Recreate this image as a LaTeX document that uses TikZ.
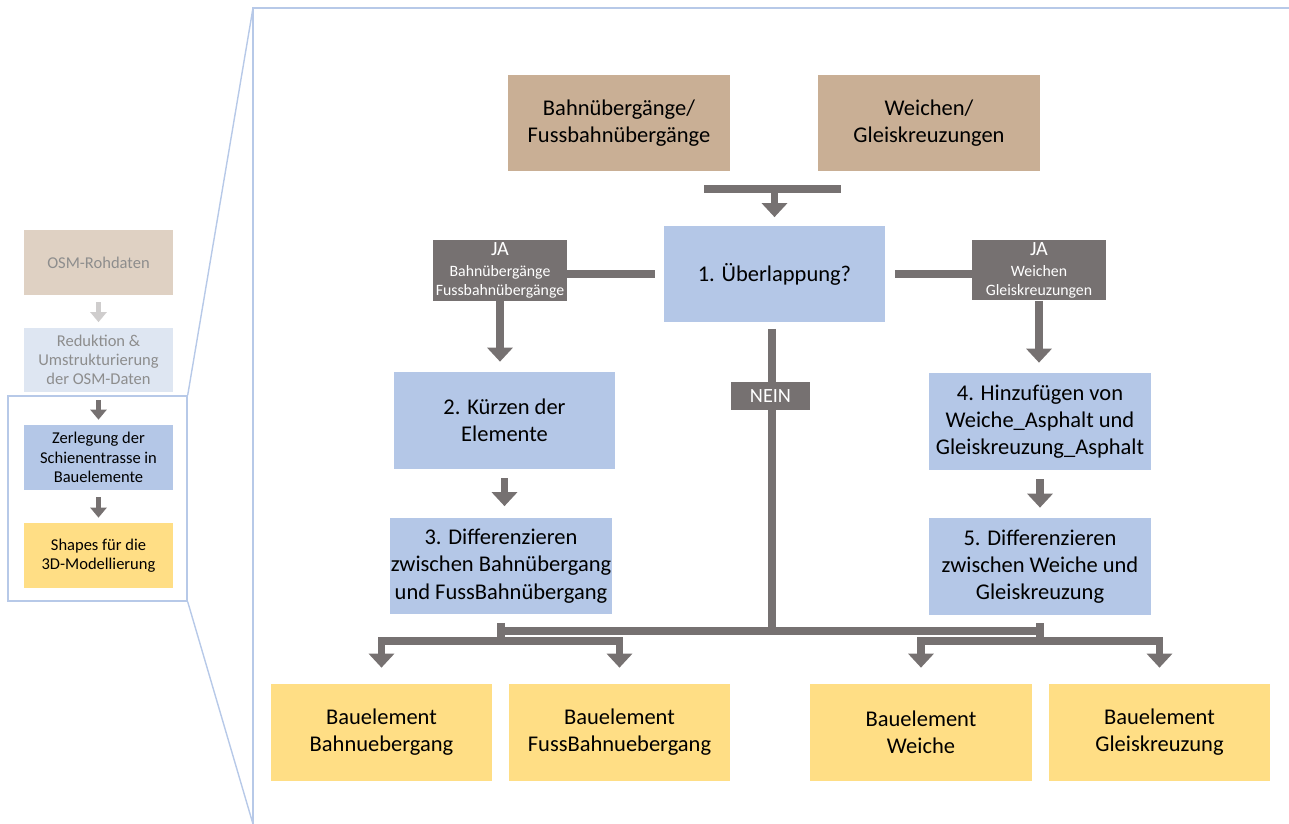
\documentclass[tikz,border=0pt]{standalone}
\usepackage{fontspec}
\setmainfont{Carlito}
\usetikzlibrary{arrows.meta}

\definecolor{rawtan}{HTML}{C9AF95}
\definecolor{rawtanpale}{HTML}{DFD1C3}
\definecolor{stepblue}{HTML}{B4C7E7}
\definecolor{stepbluepale}{HTML}{DEE6F2}
\definecolor{partyellow}{HTML}{FFDE85}
\definecolor{bargrey}{HTML}{767171}
\definecolor{lightarrow}{HTML}{CFCDCD}
\definecolor{fadegrey}{HTML}{8D8D8D}
\definecolor{frameblue}{HTML}{B7C9E8}

\begin{document}
\begin{tikzpicture}[x=0.02cm, y=-0.02cm, line join=miter,
    box/.style={fill=#1, inner sep=0pt, align=center, minimum width=4.44cm, minimum height=1.94cm, font=\fontsize{12.8}{15.5}\selectfont},
    small/.style={fill=#1, inner sep=0pt, align=center, minimum width=2.98cm, minimum height=1.3cm, font=\fontsize{9.4}{11}\selectfont},
    tag/.style={fill=bargrey, text=white, inner sep=0pt, align=center, font=\fontsize{9}{10.6}\selectfont},
    bar/.style={draw=bargrey, line width=0.15cm},
    arr/.style={bar, -{Triangle[length=0.28cm,width=0.5cm]}},
    arr2/.style={bar, {Triangle[length=0.28cm,width=0.5cm]}-{Triangle[length=0.28cm,width=0.5cm]}, shorten <=0.32cm, shorten >=0.32cm},
    arrs/.style={draw=#1, line width=0.1cm, -{Triangle[length=0.2cm,width=0.32cm]}, shorten <=0.14cm, shorten >=0.1cm},
    frame/.style={draw=frameblue, line width=0.8pt}]
    \useasboundingbox (0,0) rectangle (1289,824);

    % overview column
    \node[small=rawtanpale, text=fadegrey] (osm) at (98.5,262.5) {OSM-Rohdaten};
    \node[small=stepbluepale, text=fadegrey] (red) at (98.5,360) {Reduktion \&\\Umstrukturierung\\der OSM-Daten};
    \node[small=stepblue] (zer) at (98.5,457.5) {Zerlegung der\\Schienentrasse in\\Bauelemente};
    \node[small=partyellow] (shp) at (98.5,555.5) {Shapes für die\\3D-Modellierung};
    \node[frame, minimum width=3.58cm, minimum height=4.1cm] (focus) at (97.5,498.5) {};

    \draw[arrs=lightarrow] (osm) -- (red);
    \draw[arrs=bargrey] (red) -- (zer);
    \draw[arrs=bargrey] (zer) -- (shp);

    % zoom into the detail
    \coordinate (zt) at (253,8);
    \coordinate (zb) at (253,824);
    \coordinate (ze) at (1289,8);
    \draw[frame] (focus.north east) -- (zt);
    \draw[frame] (focus.south east) -- (zb);
    \draw[frame] (zb) -- (zt) -- (ze);

    % detail
    \node[box=rawtan] (bahn) at (619,123) {Bahnübergänge/\\Fussbahnübergänge};
    \node[box=rawtan] (weich) at (929,123) {Weichen/\\Gleiskreuzungen};
    \node[box=stepblue] (ueb) at (774.5,274) {1. Überlappung?};
    \node[tag, minimum width=2.68cm, minimum height=1.22cm] (jal) at (500,270.5) {{\fontsize{11.5}{13}\selectfont JA}\\[1.5pt]Bahnübergänge\\Fussbahnübergänge};
    \node[tag, minimum width=2.68cm, minimum height=1.22cm] (jar) at (1039,270) {{\fontsize{11.5}{13}\selectfont JA}\\[1.5pt]Weichen\\Gleiskreuzungen};
    \node[box=stepblue] (kuerz) at (504.5,420.5) {2. Kürzen der\\Elemente};
    \node[box=stepblue] (hinz) at (1040,421.5) {4. Hinzufügen von\\Weiche\_Asphalt und\\Gleiskreuzung\_Asphalt};
    \node[box=stepblue] (difl) at (501,566) {3. Differenzieren\\zwischen Bahnübergang\\und FussBahnübergang};
    \node[box=stepblue] (difr) at (1040,566.5) {5. Differenzieren\\zwischen Weiche und\\Gleiskreuzung};
    \node[box=partyellow] (b1) at (381.5,732.5) {Bauelement\\Bahnuebergang};
    \node[box=partyellow] (b2) at (619.5,732.5) {Bauelement\\FussBahnuebergang};
    \node[box=partyellow] (b3) at (921,732.5) {Bauelement\\Weiche};
    \node[box=partyellow] (b4) at (1159.5,732.5) {Bauelement\\Gleiskreuzung};

    \coordinate (mL) at (704,189);
    \coordinate (mR) at (841,189);
    \draw[bar] (mL) -- (mR);
    \draw[arr, shorten >=0.16cm] (mL -| ueb) -- (ueb.north);

    \draw[bar, shorten >=0.16cm] (jal.east |- ueb) -- (ueb.west);
    \draw[bar, shorten >=0.18cm] (jar.west |- ueb) -- (ueb.east);
    \draw[arr, shorten >=0.2cm] (jal.south) -- (jal.south |- kuerz.north);
    \draw[arr, shorten >=0.2cm] (jar.south) -- (jar.south |- hinz.north);
    \draw[arr, shorten <=0.18cm, shorten >=0.22cm] (kuerz.south) -- (kuerz.south |- difl.north);
    \draw[arr, shorten <=0.18cm, shorten >=0.2cm] (hinz.south) -- (hinz.south |- difr.north);

    \coordinate (split) at (772,631);
    \coordinate (sl) at (501,641);
    \coordinate (sr) at (1040,641);
    \draw[bar, shorten <=0.12cm] (ueb.south -| split) -- (split);
    \draw[bar] (difl.south |- split) -- (difr.south |- split);
    \draw[bar, shorten <=0.16cm] (difl.south) -- (sl);
    \draw[bar, shorten <=0.16cm] (difr.south) -- (sr);
    \draw[arr2] (b1.north) |- (sl) -| (b2.north);
    \draw[arr2] (b3.north) |- (sr) -| (b4.north);

    \node[tag, font=\fontsize{11.5}{13}\selectfont, minimum width=1.58cm, minimum height=0.56cm] (nein) at (770.5,396) {NEIN};
\end{tikzpicture}
\end{document}
